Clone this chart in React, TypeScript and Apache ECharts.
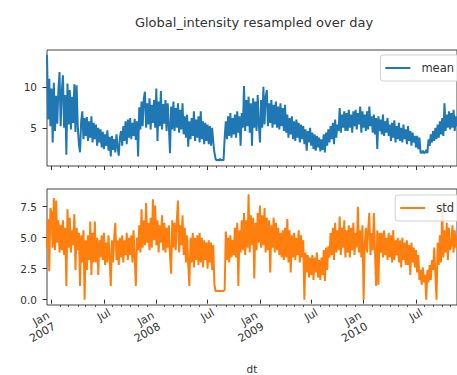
import React, { useEffect, useRef } from "react";
import * as echarts from "echarts";

// Daily resampled Global_intensity, every 4th day from 2006-12-16
const START_UTC = Date.UTC(2006, 11, 16);
const STEP_DAYS = 4;

const meanValues: number[] = [
  13.9, 6.0, 11.0, 5.2,
  9.8, 3.2, 10.5, 4.6, 8.9, 5.5, 9.6, 11.8,
  5.2, 9.5, 11.4, 5.0, 9.0, 1.7, 10.4,
  5.4, 9.6, 4.8, 8.8, 5.6, 10.3, 4.5, 10.2,
  5.2, 3.0, 2.0, 5.8, 7.0, 3.6, 6.2,
  4.0, 6.3, 3.4, 5.8, 3.8, 6.4, 3.2, 5.6,
  3.6, 5.4, 2.8, 5.0, 3.2, 4.8, 2.6,
  4.5, 2.4, 4.2, 2.8, 4.7, 2.2, 3.9, 1.5,
  4.0, 2.3, 3.6, 2.0, 4.2, 2.6, 1.6, 3.8,
  4.6, 2.8, 5.2, 3.4, 5.8, 3.0, 6.0, 3.8,
  6.2, 3.6, 5.6, 4.0, 6.1, 3.5, 5.8,
  1.5, 7.5, 4.8, 8.2, 5.2, 8.6, 9.4, 5.0,
  8.0, 5.4, 8.6, 4.8, 7.8, 5.6, 8.4, 5.0,
  9.8, 3.4, 8.2, 5.2, 9.5, 4.8, 7.9,
  5.5, 8.4, 4.6, 8.0, 5.2, 1.9, 7.6, 4.8,
  8.2, 4.6, 7.4, 5.0, 8.0, 4.4, 7.2,
  4.8, 8.0, 4.2, 6.4, 3.8, 6.6, 2.7, 5.8,
  3.6, 6.2, 4.0, 7.0, 3.4, 6.0, 3.8, 6.4,
  3.2, 7.0, 3.6, 5.8, 3.0, 5.6, 3.4,
  5.4, 3.0, 5.2, 2.8, 5.0, 3.2, 2.0, 1.2,
  1.0, 1.1, 1.0, 1.2, 1.0, 1.1, 1.0, 3.8,
  5.8, 3.6, 6.4, 4.0, 6.8, 3.8, 6.2,
  4.2, 6.6, 3.8, 7.0, 4.4, 6.4, 2.8, 6.8,
  5.0, 10.1, 4.6, 8.4, 5.2, 8.8, 4.4, 8.0,
  2.8, 8.6, 5.0, 8.2, 4.6, 9.0, 5.4,
  3.2, 8.4, 5.0, 10.0, 5.4, 8.8, 9.6, 5.2,
  8.0, 5.6, 8.4, 5.0, 7.8, 5.4, 8.2,
  5.0, 7.6, 4.8, 8.0, 5.2, 7.4, 4.6, 7.8,
  4.4, 6.6, 3.8, 6.2, 4.2, 6.4, 3.6,
  5.8, 3.4, 6.0, 3.8, 5.6, 3.2, 5.4, 3.6,
  5.2, 3.0, 4.8, 2.2, 4.6, 3.2, 5.0,
  2.8, 4.4, 2.4, 4.2, 2.2, 4.0, 2.6, 3.8,
  2.1, 3.6, 2.3, 4.2, 2.0, 4.4, 2.8, 4.8,
  3.2, 5.2, 3.6, 5.6, 3.0, 6.0, 3.8, 5.4,
  4.6, 7.4, 4.4, 6.6, 5.0, 7.0, 4.6,
  6.8, 4.6, 7.2, 5.0, 6.6, 4.4, 7.0, 5.2,
  7.2, 4.8, 6.8, 5.4, 7.6, 4.4, 7.0, 5.0,
  6.6, 4.6, 7.0, 4.8, 7.6, 5.2, 6.4,
  4.4, 6.6, 4.2, 6.2, 2.4, 6.4, 4.6,
  6.0, 4.2, 6.6, 4.0, 5.8, 4.4, 6.2, 4.0,
  5.4, 3.4, 5.6, 3.8, 5.9, 3.2, 5.2, 3.6,
  5.6, 3.4, 5.0, 3.2, 5.4, 3.6, 4.8,
  3.0, 5.2, 3.4, 4.6, 2.8, 4.4, 3.2, 4.0,
  2.6, 4.0, 2.4, 3.8, 2.0, 1.9, 2.2, 1.9,
  2.0, 2.3, 1.9, 3.6, 2.8, 4.2, 3.2,
  4.6, 3.4, 5.0, 3.6, 5.4, 3.8, 5.8, 4.2,
  6.2, 4.0, 8.0, 4.6, 6.6, 5.0, 7.0, 4.8,
  6.8, 5.0, 7.2, 4.6, 6.4, 5.2,
];

const stdValues: number[] = [
  4.2, 6.5, 2.3, 7.4,
  7.0, 4.2, 8.2, 4.0, 8.0, 4.6, 6.4, 3.8,
  6.0, 4.0, 6.4, 3.6, 5.8, 1.1, 7.3,
  4.2, 6.6, 3.8, 5.6, 4.4, 6.9, 2.4, 5.8,
  4.0, 5.4, 1.1, 5.2, 3.0, 5.6, 0.0,
  4.8, 2.4, 5.2, 3.2, 6.3, 2.0, 5.4, 3.0,
  6.3, 3.0, 5.0, 2.0, 4.8, 3.4, 5.2,
  3.2, 5.4, 2.8, 4.6, 3.0, 5.2, 3.4, 1.1,
  4.8, 3.0, 5.0, 6.2, 3.2, 4.8, 2.8, 5.0,
  3.4, 5.2, 3.0, 4.8, 3.6, 5.4, 3.2, 5.0,
  3.6, 5.2, 3.0, 5.6, 3.4, 1.1, 5.0,
  4.0, 6.0, 3.8, 7.3, 4.2, 6.4, 4.4, 7.8,
  4.6, 6.2, 4.0, 6.6, 4.2, 8.1, 4.8, 7.6,
  4.4, 6.4, 3.8, 6.0, 4.6, 6.8, 4.0,
  6.2, 3.8, 5.8, 4.2, 6.0, 3.6, 2.1, 6.4,
  4.2, 6.2, 4.0, 6.4, 8.0, 3.8, 6.0,
  4.4, 6.8, 3.6, 5.8, 3.0, 5.2, 2.8, 1.1,
  5.0, 3.0, 5.4, 2.6, 5.0, 3.2, 5.2, 2.8,
  5.4, 3.0, 5.0, 2.6, 4.8, 3.2, 4.6,
  2.5, 4.8, 3.0, 4.6, 2.4, 4.4, 1.2, 0.7,
  0.7, 0.7, 0.7, 0.7, 0.7, 0.7, 0.7, 0.8,
  5.5, 3.2, 5.0, 3.0, 5.2, 3.4, 4.8,
  3.6, 5.8, 3.4, 6.2, 1.1, 5.6, 3.8, 6.4,
  4.0, 7.0, 3.6, 6.4, 4.2, 8.5, 3.8, 6.8,
  4.4, 6.6, 1.7, 6.2, 4.0, 7.0, 4.6,
  7.6, 4.2, 6.8, 4.4, 7.4, 3.8, 6.6, 4.0,
  6.4, 2.2, 6.0, 4.2, 6.6, 3.8, 6.2,
  4.0, 5.8, 3.6, 5.4, 3.4, 5.6, 3.2, 5.8,
  3.4, 6.5, 3.0, 5.6, 2.2, 5.2, 3.4,
  5.4, 3.2, 5.0, 3.6, 5.6, 3.0, 5.2, 3.4,
  4.8, 0.0, 3.8, 2.2, 3.6, 1.8, 3.4,
  2.0, 3.6, 1.6, 3.4, 2.2, 3.8, 1.8, 3.2,
  1.6, 3.4, 2.0, 4.0, 1.5, 4.2, 2.4, 4.3,
  3.4, 5.4, 3.6, 5.8, 3.2, 6.2, 3.8, 5.6,
  4.0, 6.7, 3.6, 5.8, 4.2, 6.4, 3.4,
  5.6, 3.8, 6.0, 3.4, 5.8, 4.0, 6.2, 3.6,
  5.4, 4.2, 7.5, 3.8, 5.6, 3.4, 6.0, 0.0,
  4.4, 5.8, 3.8, 5.6, 7.0, 3.6, 5.4,
  4.0, 7.0, 3.8, 1.1, 5.6, 1.2, 5.4,
  3.8, 5.4, 3.4, 5.6, 3.6, 5.0, 3.2, 5.4,
  3.4, 5.2, 3.0, 5.6, 3.2, 4.8, 3.6, 5.0,
  3.0, 4.8, 2.6, 5.0, 3.2, 4.6, 2.8,
  4.8, 2.8, 4.4, 2.0, 4.6, 3.0, 4.2, 2.6,
  4.0, 2.2, 3.6, 1.6, 2.4, 1.2, 2.6, 1.4,
  2.0, 0.0, 2.4, 1.4, 2.8, 1.6, 3.2,
  2.4, 4.2, 2.0, 0.0, 4.6, 2.8, 5.2, 3.0,
  7.5, 3.4, 5.6, 3.8, 6.2, 3.2, 5.8, 4.0,
  4.4, 6.0, 3.8, 5.6, 4.2, 5.2,
];

const meanTicks = [5, 10];
const stdTicks = [0, 2.5, 5, 7.5];
const MONTHS = ["Jan", "Feb", "Mar", "Apr", "May", "Jun", "Jul", "Aug", "Sep", "Oct", "Nov", "Dec"];

const dates: Date[] = meanValues.map((_, i) => new Date(START_UTC + i * STEP_DAYS * 86400000));
const categories = dates.map((d) => d.toISOString().slice(0, 10));

const monthOf = (i: number) => dates[i].getUTCMonth();
const isMonthStart = (i: number) => i > 0 && i < dates.length && monthOf(i) !== monthOf(i - 1);
const isMajor = (i: number) => isMonthStart(i) && (monthOf(i) === 0 || monthOf(i) === 6);
const isYearStart = (i: number) => isMonthStart(i) && monthOf(i) === 0;
const isJuly = (i: number) => isMonthStart(i) && monthOf(i) === 6;

const TEXT = "#333";
const FONT = "DejaVu Sans";

export default function App() {
  const ref = useRef<HTMLDivElement>(null);
  useEffect(() => {
    if (!ref.current) return;
    const chart = echarts.init(ref.current, undefined, { renderer: "svg" });
    const grids = [
      { left: 47, right: -11, top: 50, height: 116, show: true, borderColor: "#444", borderWidth: 1 },
      { left: 47, right: -11, top: 189, height: 116, show: true, borderColor: "#444", borderWidth: 1 },
    ];
    // major ticks (Jan, Jul) + year labels
    const majorAxis = (gridIndex: number, withLabels: boolean) => ({
      type: "category",
      gridIndex,
      position: "bottom",
      data: categories,
      boundaryGap: false,
      axisLine: { show: false },
      axisTick: {
        show: true,
        interval: (i: number) => isMajor(i),
        length: 4,
        lineStyle: { color: TEXT, width: 1 },
      },
      axisLabel: {
        show: withLabels,
        interval: (i: number) => isYearStart(i),
        rotate: 30,
        align: "right",
        verticalAlign: "middle",
        margin: 15,
        fontSize: 11,
        lineHeight: 12.5,
        color: TEXT,
        fontFamily: FONT,
        formatter: (_v: string, i: number) => `${MONTHS[monthOf(i)]}\n${dates[i].getUTCFullYear()}`,
      },
      splitLine: { show: false },
      ...(withLabels
        ? {
            name: "dt",
            nameLocation: "middle",
            nameGap: 58,
            nameTextStyle: { fontSize: 10.5, color: TEXT, fontFamily: FONT },
          }
        : {}),
    });
    // minor ticks (every month) + July labels
    const minorAxis = (gridIndex: number, withLabels: boolean) => ({
      type: "category",
      gridIndex,
      position: "bottom",
      offset: 0,
      data: categories,
      boundaryGap: false,
      axisLine: { show: false },
      axisTick: {
        show: true,
        interval: (i: number) => isMonthStart(i) && !isMajor(i),
        length: 2,
        lineStyle: { color: TEXT, width: 0.8 },
      },
      axisLabel: {
        show: withLabels,
        interval: (i: number) => isJuly(i),
        rotate: 30,
        align: "center",
        verticalAlign: "middle",
        margin: 10,
        fontSize: 11,
        color: TEXT,
        fontFamily: FONT,
        formatter: (_v: string, i: number) => MONTHS[monthOf(i)],
      },
      splitLine: { show: false },
    });
    const yAxis = (gridIndex: number, min: number, max: number, ticks: number[], digits: number) => ({
      type: "value",
      gridIndex,
      position: "left",
      min,
      max,
      axisLine: { show: false },
      axisTick: { show: true, length: 4.5, customValues: ticks, lineStyle: { color: TEXT } },
      axisLabel: {
        customValues: ticks,
        fontSize: 10.5,
        color: TEXT,
        fontFamily: FONT,
        margin: 10,
        formatter: (v: number) => v.toFixed(digits),
      },
      splitLine: { show: false },
    });
    const legendBase = {
      right: -6,
      orient: "horizontal",
      icon: "rect",
      itemWidth: 25,
      itemHeight: 2,
      padding: [7, 9, 7, 5],
      backgroundColor: "rgba(255,255,255,0.85)",
      borderColor: "#d0d0d0",
      borderWidth: 1,
      borderRadius: 3,
      textStyle: { fontSize: 11.5, color: TEXT, fontFamily: FONT, padding: [0, 0, 0, 6] },
    };
    chart.setOption({
      animation: false,
      title: {
        text: "Global_intensity resampled over day",
        left: 249,
        top: 11,
        textAlign: "center",
        textStyle: { fontSize: 13, fontWeight: "normal", color: TEXT, fontFamily: FONT },
      },
      legend: [
        { ...legendBase, top: 55, data: ["mean"] },
        { ...legendBase, top: 195, data: ["std"] },
      ],
      grid: grids,
      xAxis: [majorAxis(0, false), minorAxis(0, false), majorAxis(1, true), minorAxis(1, true)],
      yAxis: [
        yAxis(0, 0.33, 14.5, meanTicks, 0),
        yAxis(1, -0.43, 8.93, stdTicks, 1),
      ],
      series: [
        {
          name: "mean",
          type: "line",
          xAxisIndex: 0,
          yAxisIndex: 0,
          data: meanValues,
          symbol: "none",
          color: "#1f77b4",
          lineStyle: { width: 2, color: "#1f77b4" },
        },
        {
          name: "std",
          type: "line",
          xAxisIndex: 2,
          yAxisIndex: 1,
          data: stdValues,
          symbol: "none",
          color: "#ff7f0e",
          lineStyle: { width: 2, color: "#ff7f0e" },
        },
      ],
    });
    return () => chart.dispose();
  }, []);
  return (
    <div
      ref={ref}
      style={{ position: "fixed", left: 0, top: 0, width: 457, height: 375, background: "#fff" }}
    />
  );
}
